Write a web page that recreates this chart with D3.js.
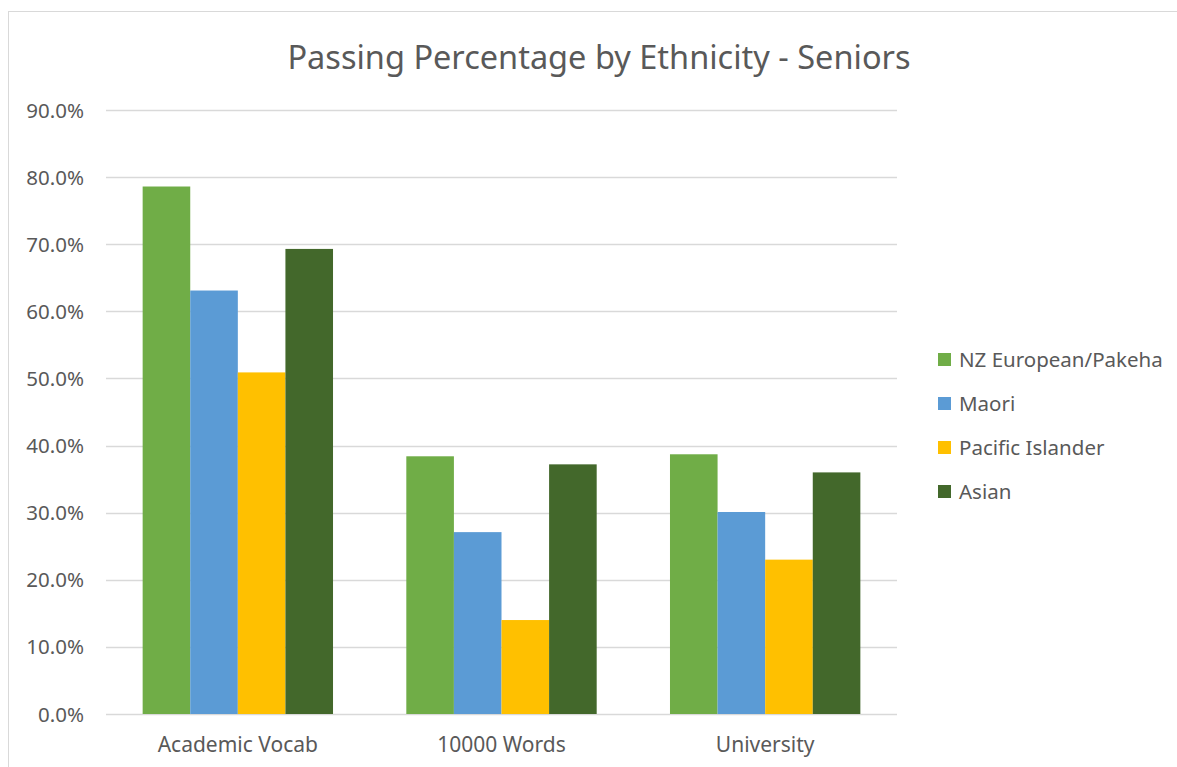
<!DOCTYPE html>
<html>
<head>
<meta charset="utf-8">
<script src="https://cdn.jsdelivr.net/npm/d3@7"></script>
<style>
  html, body { margin: 0; padding: 0; background: #fff; }
  svg { display: block; }
  text { font-family: "Noto Sans", "Open Sans", sans-serif; fill: #595959; }
</style>
</head>
<body>
<svg id="chart" width="1177" height="767"></svg>
<script>
const title = "Passing Percentage by Ethnicity - Seniors";
const categories = ["Academic Vocab", "10000 Words", "University"];
const seriesNames = ["NZ European/Pakeha", "Maori", "Pacific Islander", "Asian"];
const nzEuropean = [0.786, 0.384, 0.387];
const maori = [0.631, 0.271, 0.301];
const pacific = [0.509, 0.140, 0.230];
const asian = [0.693, 0.372, 0.360];
const yTicks = [0, 0.1, 0.2, 0.3, 0.4, 0.5, 0.6, 0.7, 0.8, 0.9];
const colors = ["#70AD47", "#5B9BD5", "#FFC000", "#43682B"];

const seriesValues = [nzEuropean, maori, pacific, asian];

const svg = d3.select("#chart");

// chart border
svg.append("rect").attr("x", 8.5).attr("y", 11.5).attr("width", 1200).attr("height", 800)
  .attr("fill", "#fff").attr("stroke", "#D9D9D9").attr("stroke-width", 1);

const plotLeft = 106, plotRight = 897, plotTop = 110, plotBottom = 714;
const x = d3.scaleBand().domain(categories).range([plotLeft, plotRight]).padding(0);
const xs = d3.scaleBand().domain(seriesNames).range([0, x.bandwidth()]).paddingInner(0).paddingOuter(0.77);
const y = d3.scaleLinear().domain([0, 0.9]).range([plotBottom, plotTop]);

// gridlines
svg.append("g").selectAll("line").data(yTicks).join("line")
  .attr("x1", plotLeft).attr("x2", plotRight)
  .attr("y1", d => Math.round(y(d)) + 0.5).attr("y2", d => Math.round(y(d)) + 0.5)
  .attr("stroke", "#D9D9D9").attr("stroke-width", 1.3);

// y tick labels
svg.append("g").selectAll("text").data(yTicks).join("text")
  .attr("x", 84).attr("y", d => y(d) + 7.5)
  .attr("text-anchor", "end").attr("font-size", 20.5)
  .text(d => d3.format(".1%")(d));

// bars
const flat = [];
categories.forEach((c, ci) => seriesNames.forEach((s, si) => flat.push({c, s, si, v: seriesValues[si][ci]})));
svg.append("g").selectAll("rect").data(flat).join("rect")
  .attr("x", d => x(d.c) + xs(d.s))
  .attr("width", xs.bandwidth())
  .attr("y", d => y(d.v))
  .attr("height", d => y(0) - y(d.v))
  .attr("fill", d => colors[d.si]);

// category labels
svg.append("g").selectAll("text").data(categories).join("text")
  .attr("x", d => x(d) + x.bandwidth() / 2).attr("y", 752)
  .attr("text-anchor", "middle").attr("font-size", 21)
  .text(d => d);

// title
svg.append("text").attr("x", 599).attr("y", 69).attr("text-anchor", "middle")
  .attr("font-size", 32.5).text(title);

// legend
const lg = svg.append("g").selectAll("g").data(seriesNames).join("g")
  .attr("transform", (d, i) => `translate(938, ${366.5 + i * 44})`);
lg.append("rect").attr("x", 0).attr("y", -13.5).attr("width", 13).attr("height", 13)
  .attr("fill", (d, i) => colors[i]);
lg.append("text").attr("x", 21).attr("y", 0).attr("font-size", 20.5).text(d => d);
</script>
</body>
</html>
